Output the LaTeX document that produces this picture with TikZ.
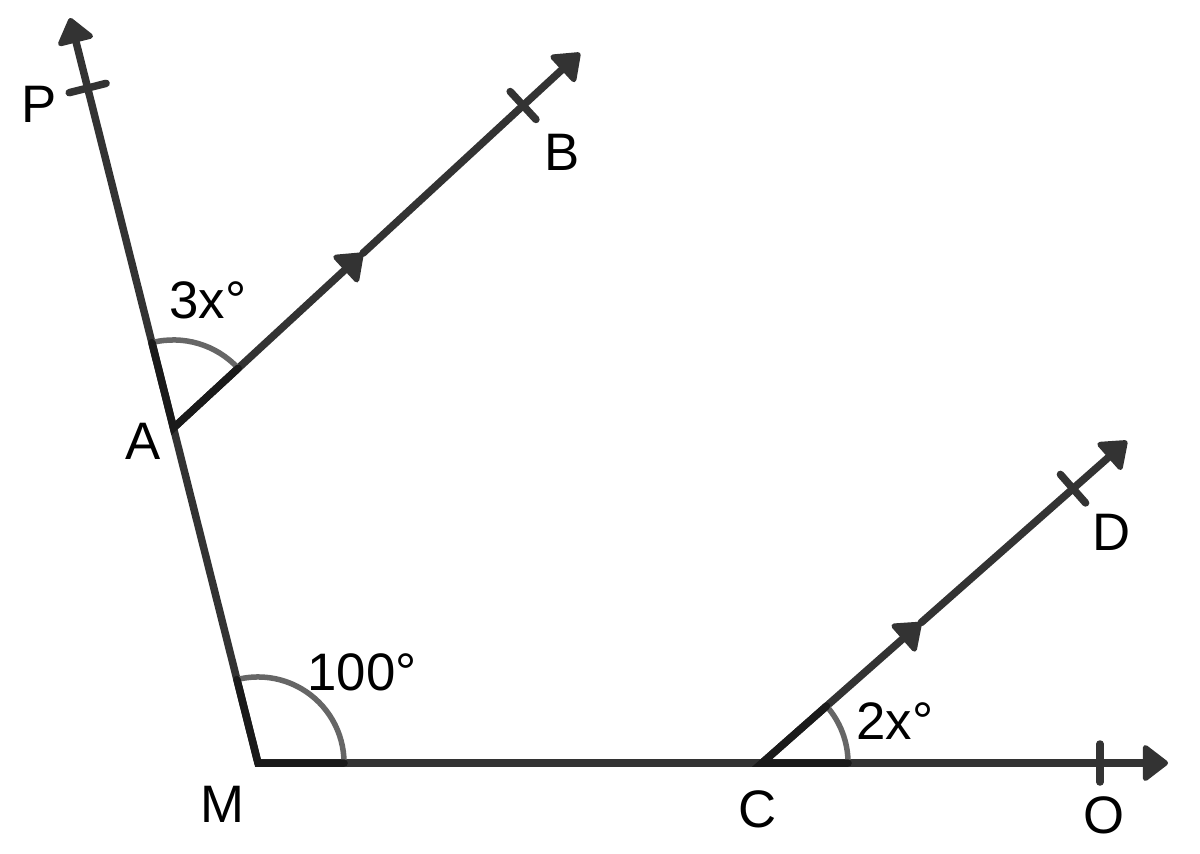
\documentclass[tikz,border=0pt]{standalone}
\usepackage{fontspec}
\setmainfont{Liberation Sans}
\usetikzlibrary{arrows.meta,calc}
\definecolor{lineg}{HTML}{333333}
\definecolor{sideg}{HTML}{1A1A1A}
\definecolor{arcg}{HTML}{666666}
\tikzset{
  ray/.style={draw=lineg,line width=0.075cm,line cap=round},
  tip/.style={-{Triangle[length=0.27cm,width=0.4cm,round,line width=1.5pt]}},
  side/.style={draw=sideg,line width=0.075cm,line cap=round},
  arcline/.style={draw=arcg,line width=0.055cm},
  lbl/.style={font=\fontsize{15}{18}\selectfont,inner sep=0pt}
}
\begin{document}
\begin{tikzpicture}[x=0.01cm,y=0.01cm]
\useasboundingbox (0,0) rectangle (1200,853);
% points
\coordinate (M) at (258,90);
\coordinate (C) at (762,90);
\coordinate (Pt) at (70,835);
\coordinate (Bt) at (580,800);
\coordinate (Dt) at (1127,412);
\coordinate (Ot) at (1168,90);
\coordinate (A) at ($(M)!0.4497!(Pt)$);
\coordinate (tP) at ($(M)!0.906!(Pt)$);
\coordinate (tB) at ($(A)!0.86!(Bt)$);
\coordinate (mAB) at ($(A)!0.466!(Bt)$);
\coordinate (tD) at ($(C)!0.852!(Dt)$);
\coordinate (mCD) at ($(C)!0.436!(Dt)$);
\coordinate (tO) at (1100,90);
% rays
\draw[ray,tip] (M) -- (Pt);
\draw[ray,tip] (M) -- (Ot);
\draw[ray,tip] (A) -- (mAB);
\draw[ray,tip] (mAB) -- (Bt);
\draw[ray,tip] (C) -- (mCD);
\draw[ray,tip] (mCD) -- (Dt);
% ticks
\draw[ray] ($(tP)!0.19cm!90:(Pt)$) -- ($(tP)!0.19cm!-90:(Pt)$);
\draw[ray] ($(tB)!0.19cm!90:(Bt)$) -- ($(tB)!0.19cm!-90:(Bt)$);
\draw[ray] ($(tD)!0.19cm!90:(Dt)$) -- ($(tD)!0.19cm!-90:(Dt)$);
\draw[ray] ($(tO)!0.19cm!90:(Ot)$) -- ($(tO)!0.19cm!-90:(Ot)$);
% angles
\draw[arcline] ($(M)!0.86cm!(C)$) arc[start angle=0,end angle=104.2,radius=0.86cm];
\draw[arcline] ($(A)!0.88cm!(Bt)$) arc[start angle=42.7,end angle=104.2,radius=0.88cm];
\draw[arcline] ($(C)!0.86cm!(Ot)$) arc[start angle=0,end angle=41.4,radius=0.86cm];
\draw[side] ($(M)!0.86cm!(Pt)$) -- (M) -- ($(M)!0.86cm!(C)$);
\draw[side] ($(A)!0.88cm!(Pt)$) -- (A) -- ($(A)!0.88cm!(Bt)$);
\draw[side] ($(C)!0.86cm!(Dt)$) -- (C) -- ($(C)!0.86cm!(Ot)$);
% labels
\node[lbl] (lP) at (39,749) {P};
\node[lbl] (lB) at (562,701) {B};
\node[lbl] (lx3) at (208,553) {3x°};
\node[lbl] (lA) at (143,412) {A};
\node[lbl] (l100) at (362,181) {100°};
\node[lbl] (lx2) at (895,132) {2x°};
\node[lbl] (lD) at (1112,321) {D};
\node[lbl] (lM) at (222,49) {M};
\node[lbl] (lC) at (758,44) {C};
\node[lbl] (lO) at (1104,38) {O};
\end{tikzpicture}
\end{document}
